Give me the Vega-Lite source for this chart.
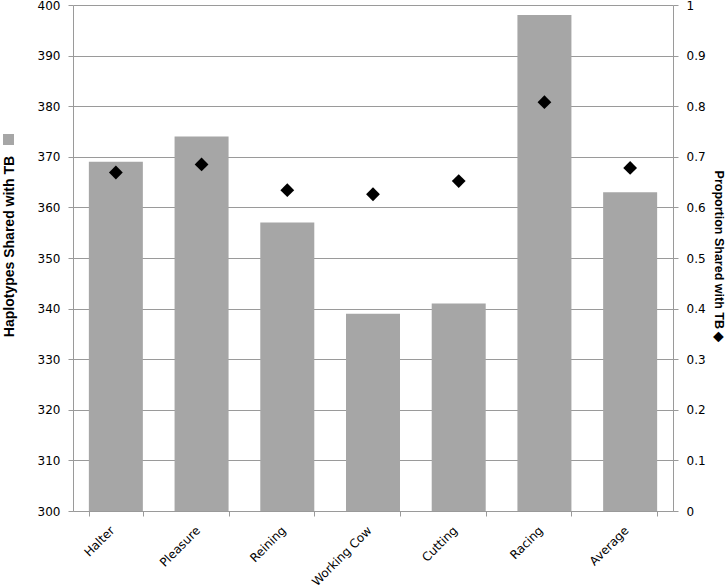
{
  "$schema": "https://vega.github.io/schema/vega-lite/v6.json",
  "autosize": {"type": "none"},
  "padding": {"left": 73, "top": 5, "right": 55, "bottom": 76},
  "width": 600,
  "height": 506,
  "background": "white",
  "config": {
    "view": {"stroke": null},
    "font": "DejaVu Sans",
    "axis": {
      "labelFont": "DejaVu Sans",
      "labelFontSize": 12,
      "labelColor": "#000000",
      "titleFont": "Liberation Sans",
      "titleFontSize": 13,
      "titleFontWeight": "bold",
      "titleColor": "#000000",
      "domainColor": "#9a9a9a",
      "tickColor": "#9a9a9a",
      "gridColor": "#9a9a9a",
      "tickSize": 5
    }
  },
  "data": {
    "values": [
      {"breed": "Halter", "haplotypes": 369, "proportion": 0.669},
      {"breed": "Pleasure", "haplotypes": 374, "proportion": 0.685},
      {"breed": "Reining", "haplotypes": 357, "proportion": 0.634},
      {"breed": "Working Cow", "haplotypes": 339, "proportion": 0.626},
      {"breed": "Cutting", "haplotypes": 341, "proportion": 0.652},
      {"breed": "Racing", "haplotypes": 398, "proportion": 0.808},
      {"breed": "Average", "haplotypes": 363, "proportion": 0.678}
    ]
  },
  "encoding": {
    "x": {
      "field": "breed",
      "type": "nominal",
      "sort": null,
      "scale": {"paddingInner": 0.37, "paddingOuter": 0.185},
      "axis": {
        "title": null,
        "labelAngle": -45,
        "labelAlign": "right",
        "labelBaseline": "middle",
        "labelPadding": 12,
        "labelOffset": -4,
        "tickBand": "extent",
        "grid": false
      }
    }
  },
  "layer": [
    {
      "mark": {"type": "bar", "color": "#a6a6a6"},
      "encoding": {
        "y": {
          "field": "haplotypes",
          "type": "quantitative",
          "scale": {"domain": [300, 400], "zero": false, "nice": false},
          "axis": {
            "title": "Haplotypes Shared with TB",
            "titleFontSize": 14,
            "titleY": 241,
            "values": [300, 310, 320, 330, 340, 350, 360, 370, 380, 390, 400],
            "grid": true,
            "labelPadding": 8,
            "titlePadding": 21
          }
        },
        "y2": {"datum": 300},
        "color": {
          "datum": "Haplotypes",
          "scale": {"range": ["#a6a6a6"]},
          "legend": {
            "orient": "none",
            "legendX": -70,
            "legendY": 129,
            "title": null,
            "symbolType": "square",
            "symbolSize": 121,
            "symbolStrokeWidth": 0,
            "labelExpr": "''",
            "padding": 0
          }
        }
      }
    },
    {
      "mark": {"type": "point", "shape": "diamond", "filled": true, "color": "#000000", "size": 190, "opacity": 1},
      "encoding": {
        "y": {
          "field": "proportion",
          "type": "quantitative",
          "scale": {"domain": [0, 1], "nice": false},
          "axis": {
            "orient": "right",
            "title": "Proportion Shared with TB ◆",
            "titleFontSize": 12.5,
            "titleY": 251,
            "format": "~g",
            "values": [0, 0.1, 0.2, 0.3, 0.4, 0.5, 0.6, 0.7, 0.8, 0.9, 1],
            "grid": false,
            "labelPadding": 8,
            "titlePadding": 6
          }
        }
      }
    }
  ],
  "resolve": {"scale": {"y": "independent", "color": "independent"}}
}
